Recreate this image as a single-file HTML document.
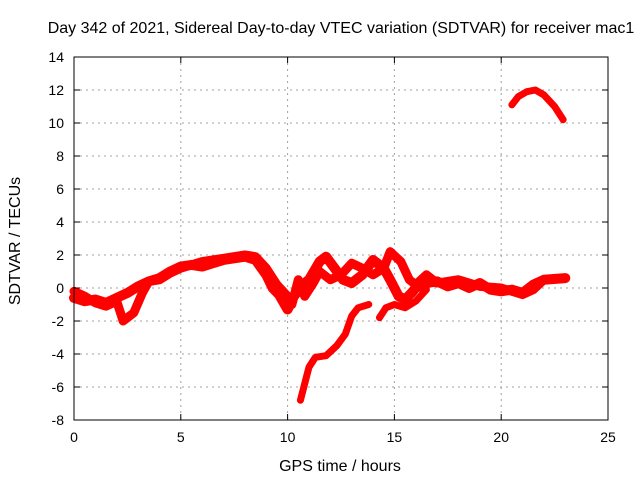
<!DOCTYPE html>
<html><head><meta charset="utf-8"><style>
body{margin:0;background:#fff;}
svg{display:block;font-family:"Liberation Sans",sans-serif;}
</style></head><body>
<svg id="chart" width="640" height="480">
<rect width="640" height="480" fill="#fff"/>
<text x="341" y="33" text-anchor="middle" font-size="16">Day 342 of 2021, Sidereal Day-to-day VTEC variation (SDTVAR) for receiver mac1</text>
<text x="340" y="471" text-anchor="middle" font-size="16">GPS time / hours</text>
<text transform="translate(20,241) rotate(-90)" text-anchor="middle" font-size="16">SDTVAR / TECUs</text>
<g id="grid"></g><g id="series"></g><g id="axes"></g>
</svg>
<script>
const xTicks=[0,5,10,15,20,25];
const yTicks=[-8,-6,-4,-2,0,2,4,6,8,10,12,14];
const trackAHours=[0,0.5,1,1.5,2,2.5,3,3.5,4,4.5,5,5.5,6,6.5,7,7.5,8,8.5,9,9.3,9.6,10,10.3,10.7,11,11.5,11.8,12.2,12.6,13,13.5,14,14.5,14.8,15.2,15.5,15.8,16,16.5,17,17.5,18,18.5,19,19.5,20,20.5,21,21.5,22,23];
const trackAValues=[-0.6,-0.8,-0.7,-0.9,-0.6,-0.3,0.1,0.4,0.6,1.0,1.3,1.4,1.3,1.5,1.7,1.8,1.9,1.7,0.8,0,-0.4,-1.3,-0.5,0.2,0.5,1.6,1.9,1.2,0.5,0.3,0.8,1.7,1.2,0.5,-0.5,-0.7,-0.3,0.0,0.3,0.4,0.1,0.3,0.0,0.3,-0.1,-0.2,-0.1,-0.3,0.2,0.5,0.6];
const trackBHours=[0,0.5,1,1.5,2,2.3,2.8,3.2,3.5,4,4.5,5,6,7,8,8.5,9,9.5,10,10.2,10.5,10.8,11.2,11.5,12,12.5,13,13.5,14,14.5,14.8,15.3,15.7,16,16.5,17,18,19,20,21,21.5,22,23];
const trackBValues=[-0.2,-0.5,-0.9,-1.1,-0.8,-2.0,-1.5,-0.3,0.4,0.5,0.9,1.2,1.6,1.8,2.0,1.9,1.2,0.2,-0.5,-1.0,0.5,-0.5,0.3,1.0,0.5,0.8,1.5,1.2,0.8,1.2,2.2,1.6,0.5,0.2,0.8,0.3,0.5,0.1,0.0,-0.4,-0.1,0.5,0.6];
const trackCHours=[10.6,10.8,11,11.3,11.8,12.3,12.7,13,13.3,13.8];
const trackCValues=[-6.8,-5.8,-4.8,-4.2,-4.1,-3.5,-2.8,-1.7,-1.2,-1.0];
const trackEHours=[14.3,14.6,15,15.5,16,16.5];
const trackEValues=[-1.8,-1.2,-1.0,-1.2,-0.8,-0.1];
const trackDHours=[20.5,20.8,21.2,21.6,22,22.5,22.9];
const trackDValues=[11.1,11.6,11.9,12.0,11.7,11.0,10.2];
const X0=74,X1=608,Y0=420,Y1=57;
const sx=h=>X0+(h-0)/(25-0)*(X1-X0);
const sy=v=>Y0-(v+8)/(14+8)*(Y0-Y1);
const NS="http://www.w3.org/2000/svg";
function mk(t,a,p){const e=document.createElementNS(NS,t);for(const k in a)e.setAttribute(k,a[k]);p.appendChild(e);return e;}
const grid=document.getElementById('grid'),axes=document.getElementById('axes'),ser=document.getElementById('series');
xTicks.forEach(t=>{const x=sx(t);
 if(t>0&&t<25){const g=mk('line',{x1:x,x2:x,y1:Y1,y2:Y0,stroke:'#a0a0a0','stroke-dasharray':'2,4'},grid);
 
 }
 const l=mk('text',{x:x,y:Y0+22,'text-anchor':'middle','font-size':14},axes);l.textContent=t;
 
 
 mk('line',{x1:x,x2:x,y1:Y0,y2:Y0-6,stroke:'#000'},axes);mk('line',{x1:x,x2:x,y1:Y1,y2:Y1+6,stroke:'#000'},axes);});
yTicks.forEach(t=>{const y=sy(t);
 if(t>-8&&t<14){const g=mk('line',{x1:X0,x2:X1,y1:y,y2:y,stroke:'#a0a0a0','stroke-dasharray':'2,4'},grid);
 
 }
 const l=mk('text',{x:X0-10,y:y+5,'text-anchor':'end','font-size':14},axes);l.textContent=t;
 
 
 mk('line',{x1:X0,x2:X0+6,y1:y,y2:y,stroke:'#000'},axes);mk('line',{x1:X1,x2:X1-6,y1:y,y2:y,stroke:'#000'},axes);});
const fr=mk('rect',{x:X0,y:Y1,width:X1-X0,height:Y0-Y1,fill:'none',stroke:'#000'},axes);


function track(h,v,name,w){const pts=h.map((hh,i)=>sx(hh)+','+sy(v[i])).join(' ');
 const p=mk('polyline',{points:pts,fill:'none',stroke:'#ff0000','stroke-width':w,'stroke-linejoin':'round','stroke-linecap':'round'},ser);
 
 }
track(trackAHours,trackAValues,'sdtvar-track-a',10);
track(trackBHours,trackBValues,'sdtvar-track-b',9);
track(trackCHours,trackCValues,'sdtvar-track-c',7);
track(trackEHours,trackEValues,'sdtvar-track-e',7);
track(trackDHours,trackDValues,'sdtvar-track-d',7);
</script>
</body></html>
